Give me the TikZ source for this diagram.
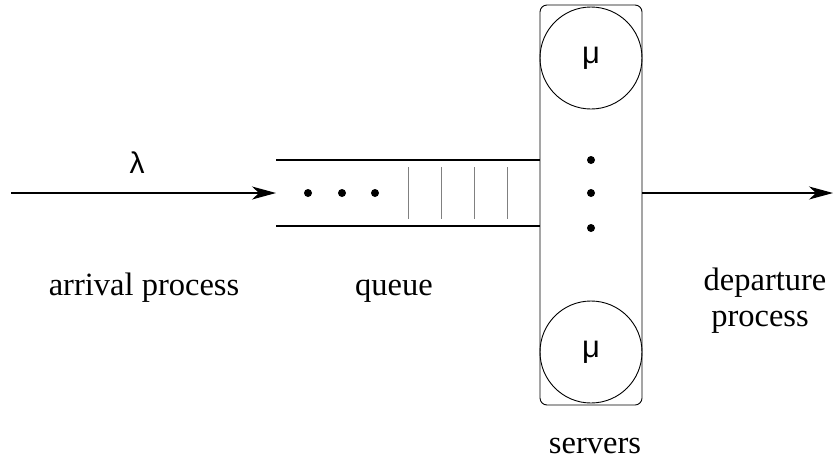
\documentclass[tikz,border=0pt]{standalone}
\usepackage{fontspec}
\setmainfont{Liberation Serif}
\newfontfamily\grk{Liberation Sans}
\usetikzlibrary{arrows.meta}
\begin{document}
\begin{tikzpicture}[x=1pt,y=-1pt,
  line/.style={line width=1.2pt},
  arr/.style={line width=1.2pt,-{Stealth[length=24pt,width=13pt,inset=7pt]}},
  lbl/.style={font=\fontsize{32.5}{35}\selectfont,align=center,inner sep=0pt,anchor=base},
  grklbl/.style={font=\grk\fontsize{30}{32}\selectfont,inner sep=0pt,anchor=base},
  srv/.style={circle,draw,line width=0.9pt,minimum size=102pt,inner sep=0pt,font=\grk\fontsize{31}{33}\selectfont},
  dot/.style={circle,fill,inner sep=0pt,minimum size=8pt},
  slot/.style={draw=gray,line width=1pt}]
\useasboundingbox (0,0) rectangle (834,464);
% servers box
\node[draw,line width=0.9pt,rounded corners=7pt,minimum width=102pt,minimum height=400pt,inner sep=0pt] (box) at (591,205) {};
\node[srv] (s1) at (591,58) {μ};
\node[srv] (s2) at (591,352) {μ};
\node[dot] (v1) at (591,160) {};
\node[dot] (v2) at (591,193) {};
\node[dot] (v3) at (591,228) {};
% queue
\coordinate (qtl) at (276,160);
\coordinate (qbl) at (276,226);
\coordinate (qtr) at (box.west |- qtl);
\coordinate (qbr) at (box.west |- qbl);
\draw[line] (qtl) -- (qtr);
\draw[line] (qbl) -- (qbr);
\foreach \x in {408,441,474,507} \draw[slot] (\x,167) -- (\x,219);
\node[dot] (h1) at (308,193) {};
\node[dot] (h2) at (342,193) {};
\node[dot] (h3) at (375,193) {};
% arrows
\coordinate (in) at (11,193);
\coordinate (qin) at (276,193);
\coordinate (out) at (833,193);
\draw[arr] (in) -- (qin);
\draw[arr] (box.east |- out) -- (out);
% labels
\node[grklbl] (lam) at (137,173) {λ};
\node[lbl] (arr) at (144,295) {arrival process};
\node[lbl] (q) at (394,295) {queue};
\node[lbl] (dep) at (765,290) {departure};
\node[lbl] (dep2) at (760,326) {process};
\node[lbl] (sv) at (595,453) {servers};
\end{tikzpicture}
\end{document}
